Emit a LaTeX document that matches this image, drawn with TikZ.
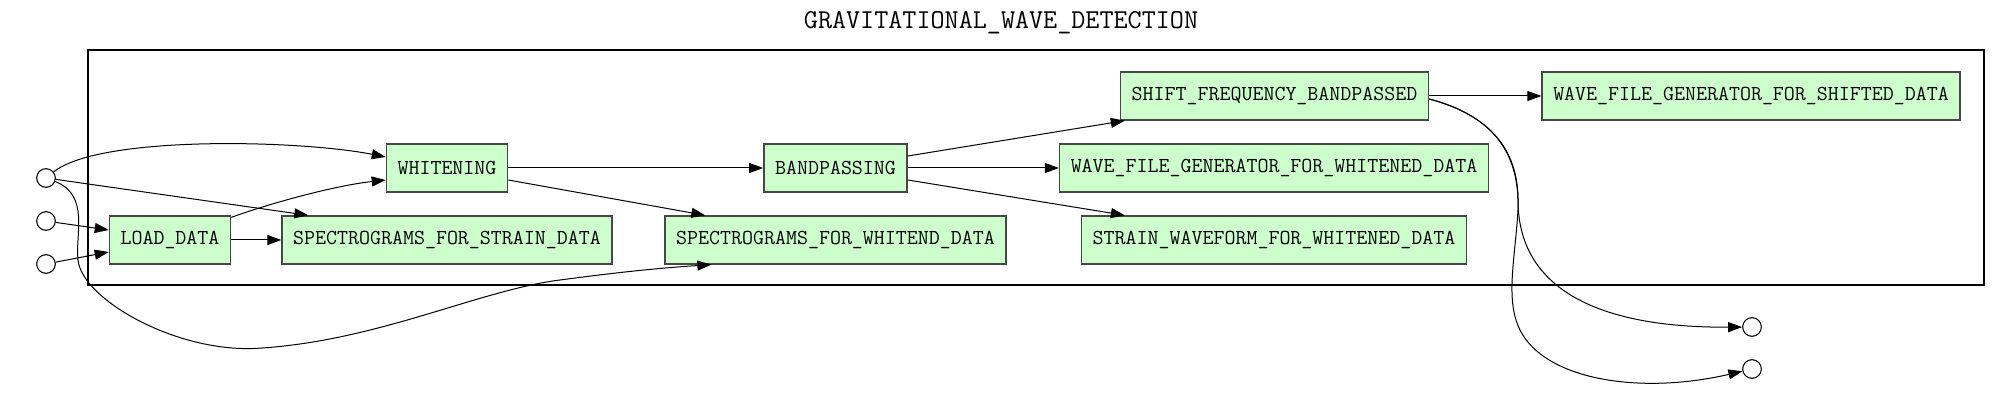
\documentclass[tikz,border=0pt]{standalone}
\usepackage{fontspec}
\usepackage{tikz}
\usepackage{xcolor}
\usetikzlibrary{arrows.meta, calc}
\definecolor{taskgreen}{HTML}{CCFFCC}

\begin{document}
\begin{tikzpicture}[
  x=0.75pt, y=-0.75pt,
  task/.style={draw=black!72, line width=1pt, fill=taskgreen, minimum height=36pt, inner xsep=8.4pt, inner ysep=0pt, font=\ttfamily\fontsize{16}{18}\selectfont},
  port/.style={draw=black, line width=0.8pt, circle, minimum size=14pt, inner sep=0pt, fill=white},
  arr/.style={-{Triangle[length=10.5pt, width=7.5pt]}, line width=0.75pt},
  frame/.style={draw=black, line width=1.6pt},
]
\useasboundingbox (0,0) rectangle (2002,416);

% Cluster and its title
\node[font=\ttfamily\fontsize{20.5}{22}\selectfont] (title) at (1001,23) {GRAVITATIONAL\_WAVE\_DETECTION};
\draw[frame] (88,50) rectangle (1984,285);

% Tasks
\node[task] (load) at (170,240) {LOAD\_DATA};
\node[task] (spst) at (447,240) {SPECTROGRAMS\_FOR\_STRAIN\_DATA};
\node[task] (whit) at (447,168) {WHITENING};
\node[task] (spwh) at (835.5,240) {SPECTROGRAMS\_FOR\_WHITEND\_DATA};
\node[task] (band) at (835.5,168) {BANDPASSING};
\node[task] (shift) at (1274.5,96) {SHIFT\_FREQUENCY\_BANDPASSED};
\node[task] (wfgw) at (1274,168) {WAVE\_FILE\_GENERATOR\_FOR\_WHITENED\_DATA};
\node[task] (strain) at (1274,240) {STRAIN\_WAVEFORM\_FOR\_WHITENED\_DATA};
\node[task] (wfgs) at (1751,96) {WAVE\_FILE\_GENERATOR\_FOR\_SHIFTED\_DATA};

% Inputs and outputs
\node[port] (in1) at (46,178) {};
\node[port] (in2) at (46,221) {};
\node[port] (in3) at (46,264) {};
\node[port] (out1) at (1752,327) {};
\node[port] (out2) at (1752,369) {};

% Inputs
\draw[arr] (in1) .. controls (100,135) and (300,140) .. ($(whit.west)+(0,-11)$);
\draw[arr] (in1) -- ($(spst.north west)+(27,0)$);
\draw[arr] (in1) .. controls (90,195) and (75,235) .. (78,260)
  .. controls (82,300) and (180,355) .. (262,348)
  .. controls (380,340) and (480,290) .. (560,280)
  .. controls (620,272) and (660,268) .. ($(spwh.south west)+(47,0)$);
\draw[arr] (in2) -- ($(load.west)+(0,-10)$);
\draw[arr] (in3) -- ($(load.west)+(0,12)$);

% Dependencies
\draw[arr] (load) -- (spst);
\draw[arr] ($(load.north east)+(0,2)$) .. controls (280,200) and (340,185) .. ($(whit.west)+(0,12)$);
\draw[arr] (whit) -- (band);
\draw[arr] ($(whit.east)+(0,12)$) -- ($(spwh.north west)+(41,0)$);
\draw[arr] ($(band.east)+(0,-12)$) -- ($(shift.south west)+(5,0)$);
\draw[arr] (band) -- (wfgw);
\draw[arr] ($(band.east)+(0,12)$) -- ($(strain.north west)+(44,0)$);
\draw[arr] (shift) -- (wfgs);

% Outputs
\draw[arr] ($(shift.east)+(0,3)$) .. controls (1490,115) and (1518,150) .. (1518,200)
  .. controls (1518,290) and (1600,328) .. (out1);
\draw[arr] ($(shift.east)+(0,3)$) .. controls (1490,115) and (1520,150) .. (1518,210)
  .. controls (1515,260) and (1505,300) .. (1520,330)
  .. controls (1545,380) and (1640,395) .. (out2);

\end{tikzpicture}
\end{document}
